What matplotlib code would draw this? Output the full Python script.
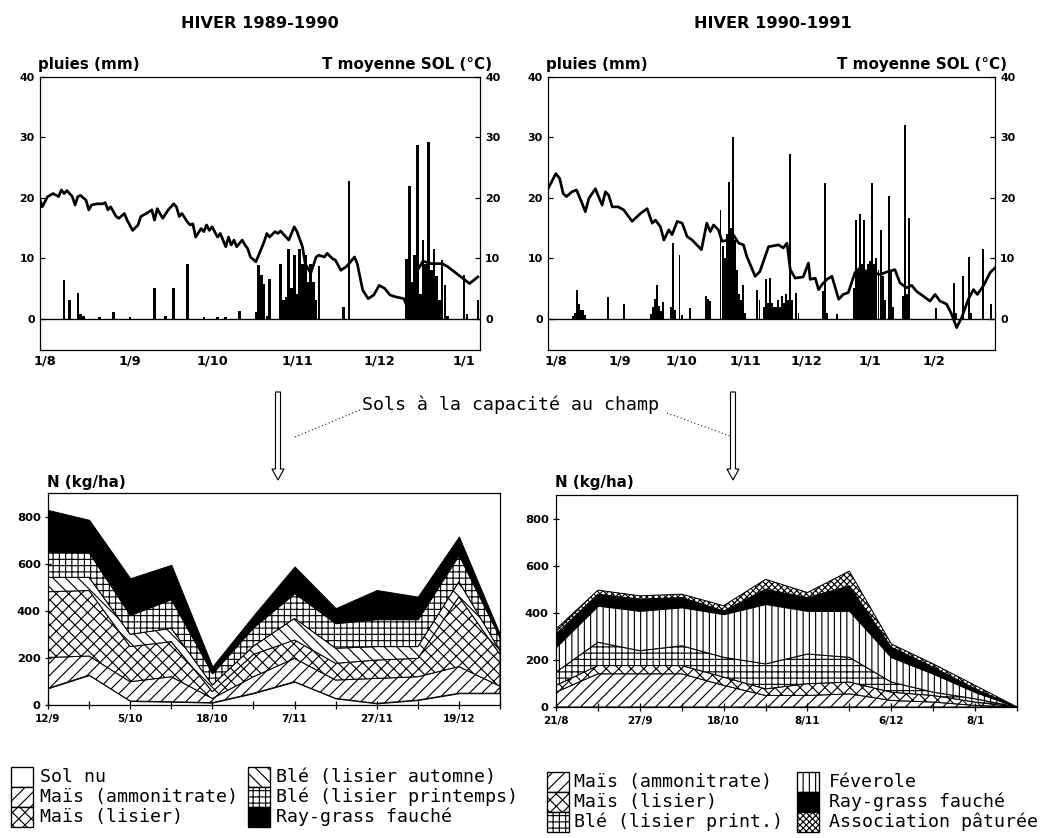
import matplotlib
matplotlib.use("Agg")
import matplotlib.pyplot as plt
from matplotlib.patches import Rectangle, FancyArrow
import numpy as np

# ---------------- DATA ----------------
# Winter 1989-1990 : day index from 1 August
temp89_day = [-2, -1, 1, 3, 5, 6, 7, 8, 9, 10, 11, 12, 13, 15, 16, 17, 19, 21, 22, 23, 24, 26, 27, 29, 30,
              32, 34, 35, 37, 39, 40, 41, 43, 45, 47, 48, 49, 50, 52, 53, 54, 55, 57, 58, 59, 60, 61, 63,
              64, 66, 67, 68, 69, 70, 72, 73, 74, 75, 77, 78, 80, 81, 82, 84, 85, 86, 88, 89, 90, 91, 92,
              94, 95, 97, 99, 100, 102, 103, 105, 106, 108, 110, 111, 113, 114, 116, 118, 120, 122, 124,
              126, 128, 131, 132, 134, 136, 138, 141, 145, 147, 151, 155, 158]
temp89_val = [19.9, 18.5, 20.2, 20.7, 20.2, 21.3, 20.7, 21.2, 20.7, 20.2, 18.8, 20.2, 20.4, 19.6, 18.0,
              18.8, 19.0, 19.0, 19.2, 18.0, 18.5, 16.9, 16.6, 17.4, 16.3, 14.6, 15.5, 16.9, 17.4, 18.0,
              16.3, 18.2, 16.6, 18.0, 19.0, 18.5, 16.9, 17.4, 16.0, 15.5, 15.7, 13.5, 14.9, 14.4, 15.5,
              14.6, 15.2, 13.5, 14.1, 11.9, 13.5, 12.2, 13.0, 11.9, 13.0, 12.2, 11.6, 10.2, 9.4, 10.5,
              12.7, 14.1, 13.5, 14.4, 14.1, 14.5, 13.5, 13.0, 14.1, 15.2, 14.4, 11.9, 9.1, 7.5, 10.2,
              10.5, 10.2, 10.8, 9.9, 9.7, 8.0, 8.6, 9.1, 10.2, 9.1, 4.7, 3.3, 3.9, 5.5, 5.0, 3.9, 3.6,
              3.3, 2.2, 1.9, 8.0, 9.5, 9.1, 9.1, 8.6, 7.2, 5.8, 6.9]
rain89_day = [7, 9, 12, 13, 14, 20, 25, 31, 40, 44, 47, 52, 58, 63, 66, 71, 77, 78, 79, 80, 81, 82,
              86, 87, 88, 89, 90, 91, 92, 93, 94, 95, 96, 97, 98, 99, 100, 109, 111,
              132, 133, 134, 135, 136, 137, 138, 139, 140, 141, 142, 143, 144, 145, 146, 147,
              153, 154, 158]
rain89_mm = [6.4, 3.0, 4.3, 0.8, 0.5, 0.2, 1.1, 0.2, 5.1, 0.5, 5.0, 9.1, 0.3, 0.2, 0.3, 1.3, 1.1, 8.8,
             7.2, 5.8, 0.5, 6.6, 9.0, 3.0, 3.5, 11.5, 5.0, 10.5, 4.0, 11.5, 9.0, 10.5, 6.0, 9.0, 6.0,
             3.0, 8.7, 2.0, 22.7, 9.8, 22.0, 6.0, 10.5, 28.7, 4.0, 13.0, 9.0, 29.3, 8.0, 11.5, 7.0,
             3.0, 9.7, 5.5, 0.5, 7.2, 0.8, 3.0]

# Winter 1990-1991 : day index from 1 August
temp90_day = [-4.1, -2.4, -0.3, 1.6, 3.3, 4.9, 7.6, 9.8, 12.5, 14.1, 15.8, 19.0, 20.3, 22.3, 23.9, 25.5,
              27.2, 30.1, 32.8, 36.9, 41.0, 44.2, 46.7, 48.3, 50.7, 52.4, 54.8, 56.4, 58.9, 61.3, 63.7,
              66.2, 69.3, 70.7, 73.3, 75.0, 76.6, 79.0, 80.7, 83.7, 86.2, 88.8, 91.2, 92.8, 96.9, 99.2,
              103.4, 108.3, 110.6, 112.4, 114.0, 116.4, 120.3, 122.9, 123.7, 126.2, 127.8, 129.4, 131.9,
              134.3, 137.6, 139.8, 142.3, 145.5, 148.0, 151.2, 154.5, 157.7, 161.8, 165.0, 167.5, 170.7,
              173.2, 175.6, 178.9, 182.1, 184.6, 187.0, 190.2, 192.7, 195.1, 197.6, 200.8, 203.3, 205.2,
              208.1, 211.4, 213.8]
temp90_val = [21.5, 22.6, 24.0, 23.2, 20.7, 20.2, 21.0, 21.3, 19.1, 17.7, 19.9, 21.5, 20.4, 18.8, 21.0,
              20.4, 18.5, 18.5, 18.0, 16.1, 17.4, 18.2, 15.8, 16.3, 15.2, 13.0, 14.7, 13.9, 16.1, 15.8,
              13.6, 13.0, 11.9, 11.4, 15.8, 14.4, 15.5, 14.7, 12.8, 13.0, 13.9, 12.5, 12.2, 10.3, 7.0,
              7.8, 11.9, 12.2, 11.7, 12.5, 8.1, 6.7, 6.9, 9.2, 6.5, 6.7, 4.8, 5.6, 6.5, 7.0, 3.2, 4.0,
              4.3, 7.6, 8.4, 7.8, 7.6, 7.3, 7.8, 8.1, 5.9, 5.1, 5.5, 4.5, 3.7, 2.9, 4.0, 2.9, 2.4, 0.7,
              -1.5, 0.2, 3.2, 4.8, 4.0, 5.4, 7.6, 8.4]
rain90_day = [8, 9, 10, 11, 12, 13, 14, 25, 33, 46, 47, 48, 49, 50, 51, 52, 56, 57, 58, 60, 61, 65,
              73, 74, 75, 80, 81, 82, 83, 84, 85, 86, 87, 88, 89, 90, 91, 92, 98, 99, 101, 102, 103,
              104, 105, 106, 107, 108, 109, 110, 111, 112, 113, 114, 115, 117, 118, 130, 131, 132, 137,
              145, 146, 147, 148, 149, 150, 151, 152, 153, 154, 155, 156, 157, 158, 159, 160, 162, 163,
              164, 169, 170, 171, 172, 185, 194, 195, 198, 201, 202, 208, 212]
rain90_mm = [0.5, 1.0, 4.8, 2.4, 1.5, 1.5, 0.6, 3.5, 2.4, 0.8, 2.0, 3.2, 5.6, 2.1, 1.3, 2.7, 2.0, 12.5,
             1.5, 10.6, 0.6, 1.8, 3.7, 3.2, 2.9, 18.0, 12.0, 10.0, 14.0, 22.6, 15.0, 30.0, 13.0, 8.0,
             4.0, 3.0, 5.5, 1.0, 4.8, 3.0, 2.0, 6.6, 2.5, 6.7, 2.5, 2.0, 2.0, 3.0, 2.0, 3.7, 2.5, 4.0,
             3.0, 27.3, 3.0, 4.2, 1.0, 4.5, 22.4, 1.0, 0.7, 5.0, 16.3, 8.0, 17.4, 9.0, 16.3, 8.0, 9.0,
             9.5, 22.4, 9.0, 10.0, 8.0, 14.7, 7.0, 3.0, 20.3, 8.0, 2.0, 3.7, 32.0, 4.0, 16.6, 1.8, 5.9,
             1.0, 7.1, 10.2, 1.0, 11.5, 2.4]

month_days = [0, 31, 61, 92, 122, 153, 184]
month_labels89 = ["1/8", "1/9", "1/10", "1/11", "1/12", "1/1"]
month_labels90 = ["1/8", "1/9", "1/10", "1/11", "1/12", "1/1", "1/2"]

# Nitrogen stocks (kg N/ha) per layer, 12 sampling dates
dates89 = ["12/9", "", "5/10", "", "18/10", "", "7/11", "", "27/11", "", "19/12", ""]
sol_nu89 = [71, 127, 17, 14, 10, 50, 99, 28, 7, 21, 50, 50]
mais_amm89 = [131, 81, 82, 106, 18, 70, 99, 78, 106, 99, 113, 30]
mais_lis89 = [279, 278, 149, 149, 29, 95, 78, 71, 78, 78, 297, 135]
ble_aut89 = [61, 56, 52, 57, 28, 35, 92, 64, 57, 50, 64, 15]
ble_pri89 = [109, 105, 82, 123, 49, 80, 106, 106, 116, 116, 113, 55]
ray89 = [177, 139, 156, 146, 29, 50, 114, 64, 124, 96, 78, 15]

dates90 = ["21/8", "", "27/9", "", "18/10", "", "8/11", "", "6/12", "", "8/1", ""]
mais_amm90 = [63, 141, 141, 141, 92, 49, 49, 56, 28, 21, 7, 0]
mais_lis90 = [29, 35, 35, 35, 35, 28, 50, 50, 35, 28, 14, 0]
ble_pri90 = [56, 99, 63, 84, 84, 106, 126, 105, 43, 14, 14, 0]
feverole90 = [106, 155, 169, 163, 183, 254, 183, 197, 105, 78, 28, 0]
ray90 = [56, 49, 50, 42, 14, 63, 57, 106, 43, 28, 14, 0]
assoc90 = [21, 17, 14, 14, 22, 42, 21, 63, 14, 14, 15, 0]

legend89 = ["Sol nu", "Maïs (ammonitrate)", "Maïs (lisier)",
            "Blé (lisier automne)", "Blé (lisier printemps)", "Ray-grass fauché"]
legend90 = ["Maïs (ammonitrate)", "Maïs (lisier)", "Blé (lisier print.)",
            "Féverole", "Ray-grass fauché", "Association pâturée"]

# ---------------- STYLE ----------------
plt.rcParams["font.family"] = ["DejaVu Sans"]
plt.rcParams["font.weight"] = "bold"
plt.rcParams["hatch.linewidth"] = 1.1
MONO = ["DejaVu Sans Mono", "DejaVu Sans"]
W, H, DPI = 1046, 838, 75

fig = plt.figure(figsize=(W / DPI, H / DPI), dpi=DPI)
fig.patch.set_facecolor("white")


def px_axes(x0, y0, x1, y1):
    return fig.add_axes([x0 / W, 1 - y1 / H, (x1 - x0) / W, (y1 - y0) / H])


def top_panel(rect, rd, rv, td, tv, xlim, labels):
    ax = px_axes(*rect)
    ax.bar(rd, rv, width=0.95, color="black", linewidth=0)
    ax.axhline(0, color="black", lw=1.3)
    ax.plot(td, tv, color="black", lw=2.6)
    ax.set_xlim(*xlim)
    ax.set_ylim(-5.2, 40)
    ax.set_yticks([0, 10, 20, 30, 40])
    ax.tick_params(axis="y", left=True, right=True, labelleft=True, labelright=True,
                   direction="in", length=5, width=1.2, labelsize=10.5, pad=5)
    ax.set_xticks(month_days[:len(labels)])
    ax.set_xticklabels(labels)
    ax.tick_params(axis="x", length=0, labelsize=12.5, pad=4)
    for s in ax.spines.values():
        s.set_linewidth(1.2)
    return ax


def bottom_panel(rect, layers, hatches, fcs, xlabels):
    ax = px_axes(*rect)
    x = np.arange(len(xlabels))
    base = np.zeros(len(xlabels))
    for vals, h, fc in zip(layers, hatches, fcs):
        top = base + np.asarray(vals, dtype=float)
        ax.fill_between(x, base, top, facecolor=fc, edgecolor="black", hatch=h, linewidth=1.0)
        base = top
    ax.set_xlim(0, len(xlabels) - 1)
    ax.set_ylim(0, 900)
    ax.set_yticks([0, 200, 400, 600, 800])
    ax.set_xticks(x)
    ax.set_xticklabels(xlabels)
    ax.tick_params(axis="y", direction="inout", length=6, width=1.2, labelsize=11, pad=4)
    ax.tick_params(axis="x", direction="inout", length=7, width=1.2, labelsize=10, pad=5)
    for s in ax.spines.values():
        s.set_linewidth(1.2)
    return ax


top_panel((40, 77, 480, 350), rain89_day, rain89_mm, temp89_day, temp89_val, (-1.8, 158.8), month_labels89)
top_panel((548, 77, 995, 350), rain90_day, rain90_mm, temp90_day, temp90_val, (-4.1, 213.8), month_labels90)

hatch89 = [None, "//", "xx", "\\\\", "++", None]
fc89 = ["white", "white", "white", "white", "white", "black"]
bottom_panel((48, 493, 500, 705), [sol_nu89, mais_amm89, mais_lis89, ble_aut89, ble_pri89, ray89],
             hatch89, fc89, dates89)

hatch90 = ["//", "xx", "++", "||", None, "xxxx"]
fc90 = ["white", "white", "white", "white", "black", "white"]
bottom_panel((556, 495, 1017, 707), [mais_amm90, mais_lis90, ble_pri90, feverole90, ray90, assoc90],
             hatch90, fc90, dates90)

# ---------------- OVERLAY (texts, arrows, legends) ----------------
ov = fig.add_axes([0, 0, 1, 1])
ov.set_xlim(0, W)
ov.set_ylim(H, 0)
ov.axis("off")

ov.text(260, 23, "HIVER 1989-1990", ha="center", va="center", fontsize=15.5)
ov.text(773, 23, "HIVER 1990-1991", ha="center", va="center", fontsize=15.5)
for xl, xr in [(38, 492), (546, 1007)]:
    ov.text(xl, 64, "pluies (mm)", ha="left", va="center", fontsize=14.5)
    ov.text(xr, 64, "T moyenne SOL (°C)", ha="right", va="center", fontsize=14.5)
ov.text(47, 482, "N (kg/ha)", ha="left", va="center", fontsize=14.5)
ov.text(555, 482, "N (kg/ha)", ha="left", va="center", fontsize=14.5)

ov.text(362, 405, "Sols à la capacité au champ", ha="left", va="center",
        family=MONO, fontweight="normal", fontsize=17.5)
ov.plot([295, 360], [437, 410], ls=(0, (1, 2.5)), color="black", lw=1)
ov.plot([667, 730], [413, 436], ls=(0, (1, 2.5)), color="black", lw=1)
for xa in (278, 733):
    ov.add_patch(FancyArrow(xa, 392, 0, 88, width=5, head_width=12, head_length=11,
                            length_includes_head=True, facecolor="white", edgecolor="black", lw=1.1))


def legend_block(x_box, x_text, ys, labels, hatches, fcs):
    for y, lab, h, fc in zip(ys, labels, hatches, fcs):
        ov.add_patch(Rectangle((x_box, y - 10), 22, 20, facecolor=fc, edgecolor="black",
                               hatch=h, lw=1.3))
        ov.text(x_text, y, lab, ha="left", va="center", family=MONO, fontweight="normal",
                fontsize=17.5)


legend_block(11, 40, [777, 797, 817], legend89[:3], hatch89[:3], fc89[:3])
legend_block(248, 276, [777, 797, 817], legend89[3:], hatch89[3:], fc89[3:])
legend_block(547, 574, [782, 802, 822], legend90[:3], hatch90[:3], fc90[:3])
legend_block(797, 829, [782, 802, 822], legend90[3:], hatch90[3:], fc90[3:])

fig.savefig("out.png", dpi=DPI, facecolor="white")
